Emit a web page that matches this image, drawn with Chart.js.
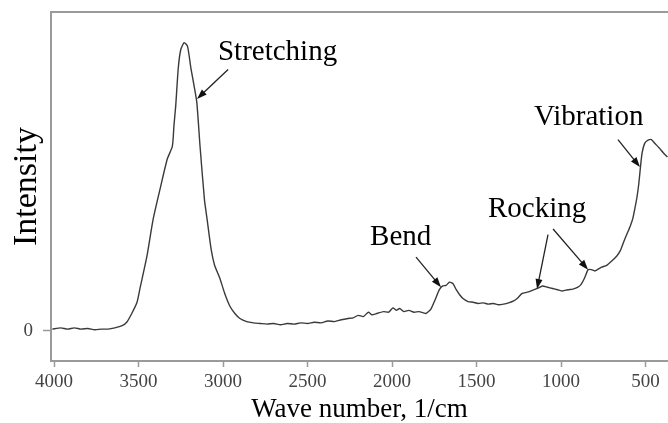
<!DOCTYPE html>
<html>
<head>
<meta charset="utf-8">
<script src="https://cdn.jsdelivr.net/npm/chart.js@4/dist/chart.umd.min.js"></script>
<style>
  body { margin: 0; background: #fff; }
  #wrap { width: 668px; height: 423px; }
</style>
</head>
<body>
<div id="wrap"><canvas id="spectrum" width="668" height="423"></canvas></div>
<script>
// spectre (nombre d'onde en 1/cm, intensité en unités arbitraires)
const waveNumbers = [4010, 3960, 3920, 3880, 3840, 3800, 3760, 3720, 3680, 3640, 3600, 3570, 3540, 3510, 3490, 3450, 3414, 3370, 3330, 3300,
    3290, 3280, 3265, 3250, 3230, 3210, 3190, 3170, 3155, 3136, 3110, 3095, 3070, 3050, 3020, 2990, 2960, 2930, 2900, 2860,
    2820, 2780, 2740, 2700, 2660, 2620, 2580, 2540, 2500, 2460, 2420, 2380, 2340, 2300, 2260, 2230, 2200, 2170, 2140, 2120,
    2090, 2050, 2020, 1995, 1975, 1955, 1930, 1900, 1870, 1840, 1800, 1770, 1745, 1720, 1700, 1680, 1660, 1640, 1620, 1600,
    1580, 1550, 1520, 1490, 1460, 1430, 1400, 1370, 1340, 1310, 1280, 1260, 1230, 1200, 1170, 1140, 1110, 1080, 1050, 1020,
    990, 960, 930, 900, 880, 860, 840, 820, 800, 780, 760, 730, 700, 670, 650, 630, 610, 590, 575, 560,
    550, 540, 530, 520, 505, 485, 465, 445, 420, 395, 370];
const intensity = [0.03, 0.05, 0.03, 0.05, 0.03, 0.04, 0.02, 0.03, 0.03, 0.05, 0.08, 0.14, 0.28, 0.45, 0.7, 1.2, 1.78, 2.3, 2.75, 2.95,
    3.3, 3.6, 4.2, 4.5, 4.61, 4.55, 4.2, 3.9, 3.65, 2.95, 2.1, 1.8, 1.3, 1.05, 0.85, 0.6, 0.4, 0.28, 0.2, 0.15,
    0.13, 0.12, 0.11, 0.12, 0.1, 0.12, 0.11, 0.13, 0.12, 0.14, 0.13, 0.16, 0.15, 0.18, 0.2, 0.21, 0.25, 0.23, 0.3, 0.26,
    0.28, 0.31, 0.3, 0.37, 0.33, 0.36, 0.31, 0.33, 0.3, 0.31, 0.28, 0.35, 0.5, 0.66, 0.72, 0.73, 0.78, 0.76, 0.66, 0.58,
    0.52, 0.47, 0.46, 0.44, 0.45, 0.43, 0.44, 0.42, 0.43, 0.45, 0.48, 0.52, 0.6, 0.62, 0.65, 0.68, 0.72, 0.7, 0.68, 0.66,
    0.64, 0.66, 0.67, 0.7, 0.75, 0.85, 0.98, 0.98, 0.96, 0.99, 1.02, 1.05, 1.12, 1.2, 1.28, 1.42, 1.55, 1.68, 1.8, 2.0,
    2.15, 2.35, 2.62, 2.85, 3.0, 3.05, 3.06, 3.0, 2.93, 2.85, 2.78];
const xTickValues = [4000, 3500, 3000, 2500, 2000, 1500, 1000, 500];
const yTickValues = [0];

// étiquettes des bandes : texte, position du texte, flèches (queue -> pointe)
const bandLabels = ['Stretching', 'Bend', 'Rocking', 'Vibration'];
const labelPos = [[3030, 4.46], [2130, 1.5], [1432, 1.94], [1160, 3.42]];
const arrows = [
    [[[2970, 4.18], [3154, 3.71]]],
    [[[1858, 1.18], [1710, 0.70]]],
    [[[1077, 1.54], [1142, 0.67]], [[1047, 1.63], [840, 0.98]]],
    [[[663, 3.06], [533, 2.62]]]
];

const serif = "'Liberation Serif', 'Times New Roman', serif";
const frameColor = '#9a9a9a';

// cadre du haut + annotations
const bandPlugin = {
    id: 'bands',
    afterDatasetsDraw(chart) {
        const ctx = chart.ctx;
        const x = chart.scales.x, y = chart.scales.y;
        const area = chart.chartArea;
        ctx.save();
        ctx.strokeStyle = frameColor;
        ctx.lineWidth = 2;
        ctx.beginPath();
        ctx.moveTo(area.left, area.top);
        ctx.lineTo(area.right, area.top);
        ctx.stroke();

        ctx.font = '29px ' + serif;
        ctx.fillStyle = '#000';
        ctx.textAlign = 'left';
        ctx.textBaseline = 'middle';
        bandLabels.forEach(function(txt, i) {
            ctx.fillText(txt, x.getPixelForValue(labelPos[i][0]), y.getPixelForValue(labelPos[i][1]));
            arrows[i].forEach(function(a) {
                const x1 = x.getPixelForValue(a[0][0]), y1 = y.getPixelForValue(a[0][1]);
                const x2 = x.getPixelForValue(a[1][0]), y2 = y.getPixelForValue(a[1][1]);
                const ang = Math.atan2(y2 - y1, x2 - x1);
                ctx.strokeStyle = '#222';
                ctx.lineWidth = 1.3;
                ctx.beginPath();
                ctx.moveTo(x1, y1);
                ctx.lineTo(x2 - 6 * Math.cos(ang), y2 - 6 * Math.sin(ang));
                ctx.stroke();
                ctx.fillStyle = '#111';
                ctx.beginPath();
                ctx.moveTo(x2, y2);
                ctx.lineTo(x2 - 10 * Math.cos(ang) + 3.5 * Math.sin(ang), y2 - 10 * Math.sin(ang) - 3.5 * Math.cos(ang));
                ctx.lineTo(x2 - 10 * Math.cos(ang) - 3.5 * Math.sin(ang), y2 - 10 * Math.sin(ang) + 3.5 * Math.cos(ang));
                ctx.closePath();
                ctx.fill();
                ctx.fillStyle = '#000';
            });
        });
        ctx.restore();
    }
};

document.addEventListener('DOMContentLoaded', function() {
    const ctx = document.getElementById('spectrum').getContext('2d');
    new Chart(ctx, {
        type: 'line',
        data: {
            datasets: [{
                data: waveNumbers.map(function(w, i) { return { x: w, y: intensity[i] }; }),
                borderColor: '#3a3a3a',
                borderWidth: 1.4,
                pointRadius: 0,
                tension: 0.2,
                fill: false
            }]
        },
        options: {
            responsive: false,
            animation: false,
            events: [],
            layout: { padding: { top: 12, left: 0, right: 0, bottom: 0 } },
            plugins: { legend: { display: false }, tooltip: { enabled: false } },
            scales: {
                x: {
                    type: 'linear',
                    reverse: true,
                    min: 367,
                    max: 4018,
                    afterBuildTicks: function(scale) {
                        scale.ticks = xTickValues.map(function(v) { return { value: v }; });
                    },
                    afterFit: function(scale) {
                        scale.height = 62;
                        scale.paddingLeft = 0;
                        scale.paddingRight = 0;
                    },
                    border: { color: frameColor, width: 2 },
                    grid: { drawOnChartArea: false, tickLength: 6, tickColor: frameColor, tickWidth: 1.5 },
                    ticks: {
                        padding: 4,
                        maxRotation: 0,
                        color: '#444',
                        font: { family: serif, size: 19 },
                        callback: function(v) { return String(v); }
                    },
                    title: {
                        display: true,
                        text: 'Wave number, 1/cm',
                        color: '#000',
                        padding: { top: 0, bottom: 0 },
                        font: { family: serif, size: 27, lineHeight: 1 }
                    }
                },
                y: {
                    type: 'linear',
                    min: -0.48,
                    max: 5.1,
                    afterBuildTicks: function(scale) {
                        scale.ticks = yTickValues.map(function(v) { return { value: v }; });
                    },
                    afterFit: function(scale) {
                        scale.width = 51;
                        scale.paddingTop = 0;
                        scale.paddingBottom = 0;
                    },
                    border: { color: frameColor, width: 2 },
                    grid: { drawOnChartArea: false, tickLength: 8, tickColor: frameColor, tickWidth: 1.5 },
                    ticks: {
                        padding: 10,
                        color: '#444',
                        font: { family: serif, size: 19 },
                        callback: function(v) { return String(v); }
                    },
                    title: {
                        display: true,
                        text: 'Intensity',
                        color: '#000',
                        padding: { top: 10, bottom: 0 },
                        font: { family: serif, size: 34, lineHeight: 1 }
                    }
                }
            }
        },
        plugins: [bandPlugin]
    });
});
</script>
</body>
</html>
